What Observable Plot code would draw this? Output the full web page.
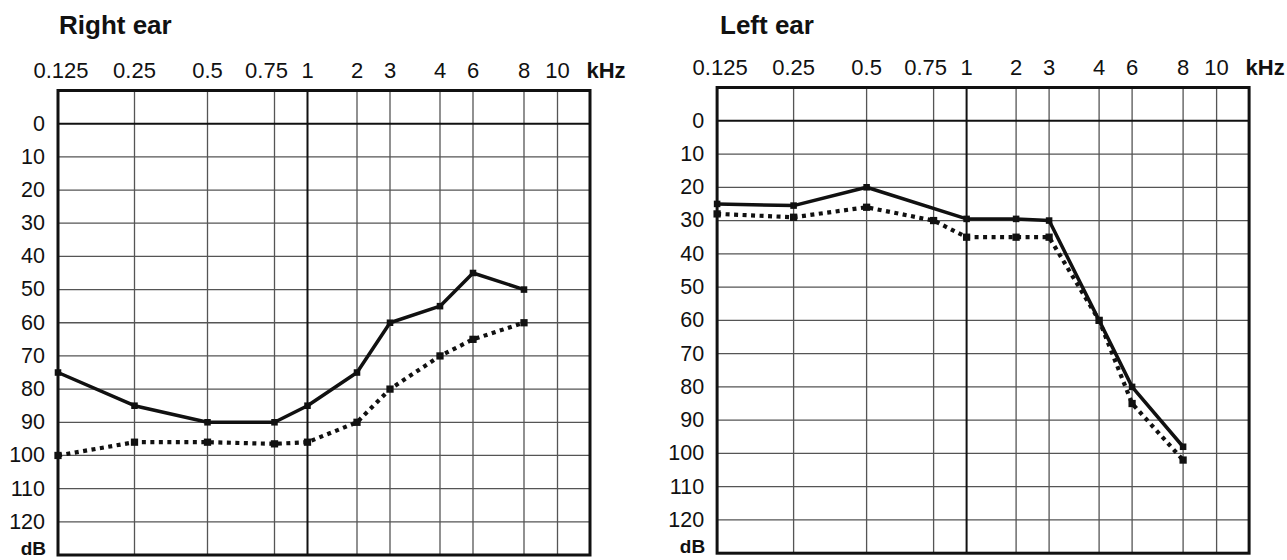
<!DOCTYPE html>
<html>
<head>
<meta charset="utf-8">
<script src="https://cdn.jsdelivr.net/npm/d3@7"></script>
<script src="https://cdn.jsdelivr.net/npm/@observablehq/plot@0.6"></script>
<style>
  body { margin: 0; background: #fff; font-family: "Liberation Sans", Arial, sans-serif; }
  #wrap { display: flex; width: 1287px; height: 560px; overflow: hidden; }
  .panel { position: relative; }
  .title { height: 40px; box-sizing: border-box; padding-top: 12px; font-size: 26px; line-height: 26px; font-weight: bold; color: #111; }
</style>
</head>
<body>
<div id="wrap"></div>
<script>
// ---- data ----
const titles = ["Right ear", "Left ear"];
const freqTicks = [0.125, 0.25, 0.5, 0.75, 1, 2, 3, 4, 6, 8, 10];
const dbTicks = [0, 10, 20, 30, 40, 50, 60, 70, 80, 90, 100, 110, 120];
const freqUnit = "kHz";
const dbUnit = "dB";

const rightSolidFreq = [0.125, 0.25, 0.5, 0.75, 1, 2, 3, 4, 6, 8];
const rightSolidDb   = [75, 85, 90, 90, 85, 75, 60, 55, 45, 50];
const rightDottedFreq = [0.125, 0.25, 0.5, 0.75, 1, 2, 3, 4, 6, 8];
const rightDottedDb   = [100, 96, 96, 96.5, 96, 90, 80, 70, 65, 60];

const leftSolidFreq = [0.125, 0.25, 0.5, 1, 2, 3, 4, 6, 8];
const leftSolidDb   = [25, 25.5, 20, 29.5, 29.5, 30, 60, 80, 98];
const leftDottedFreq = [0.125, 0.25, 0.5, 0.75, 1, 2, 3, 4, 6, 8];
const leftDottedDb   = [28, 29, 26, 30, 35, 35, 35, 60, 85, 102];

// ---- layout: audiogram column spacing (piecewise frequency axis) ----
const xStops = [...freqTicks, 12];
const xOffsets = [0, 76.5, 149.5, 216.5, 249.5, 299, 332, 382, 415, 466, 499.5, 532];
const gridUnits = d3.scaleLinear().domain(xStops).range(xOffsets);
const FONT = '"Liberation Sans", Arial, sans-serif';

function makePanel({title, sF, sV, dF, dV, width, marginLeft, marginTop, marginBottom, titleLeft}) {
  const solid = sF.map((f, i) => ({f, db: sV[i]}));
  const dotted = dF.map((f, i) => ({f, db: dV[i]}));
  const axisOpts = {anchor: "top", tickSize: 0, tickPadding: 12.5, fontSize: 22, label: null, tickFormat: d => String(d)};
  const plot = Plot.plot({
    width,
    height: 520,
    marginLeft,
    marginRight: width - marginLeft - 532,
    marginTop,
    marginBottom,
    x: {type: "linear", transform: f => gridUnits(f), domain: [0, 532]},
    y: {domain: [-10, 130], reverse: true},
    style: {fontFamily: FONT, background: "#fff", color: "#111", overflow: "visible"},
    marks: [
      Plot.ruleX(freqTicks.filter(f => f !== 1), {stroke: "#555", strokeWidth: 1.3}),
      Plot.ruleY(dbTicks.filter(d => d !== 0), {stroke: "#555", strokeWidth: 1.3}),
      Plot.ruleX([1], {stroke: "#111", strokeWidth: 2}),
      Plot.ruleY([0], {stroke: "#111", strokeWidth: 2}),
      Plot.frame({stroke: "#111", strokeWidth: 3}),
      Plot.line(dotted, {x: "f", y: "db", stroke: "#111", strokeWidth: 4.2, strokeDasharray: "4,4.5", strokeLinecap: "butt", strokeLinejoin: "miter"}),
      Plot.line(solid, {x: "f", y: "db", stroke: "#111", strokeWidth: 3.5, strokeLinejoin: "miter"}),
      Plot.dot(dotted, {x: "f", y: "db", symbol: "square", r: 4.1, fill: "#111", stroke: "none"}),
      Plot.dot(solid, {x: "f", y: "db", symbol: "square", r: 3.7, fill: "#111", stroke: "none"}),
      Plot.axisX(freqTicks.filter(f => f !== 0.75 && f !== 0.125), axisOpts),
      Plot.axisX([0.75], {...axisOpts, dx: -8}),
      Plot.axisX([0.125], {...axisOpts, dx: 3}),
      Plot.axisY(dbTicks, {anchor: "left", tickSize: 0, tickPadding: 13, fontSize: 21.5, label: null, tickFormat: d => String(d)}),
      Plot.text([freqUnit], {text: d => d, frameAnchor: "top-right", textAnchor: "start", lineAnchor: "bottom", dx: -3.5, dy: -12.5, fontSize: 22, fontWeight: "bold", fill: "#111"}),
      Plot.text([dbUnit], {text: d => d, frameAnchor: "bottom-left", textAnchor: "end", lineAnchor: "bottom", dx: -12, dy: 0, fontSize: 19, fontWeight: "bold", fill: "#111"})
    ]
  });
  const div = document.createElement("div");
  div.className = "panel";
  div.style.width = width + "px";
  const t = document.createElement("div");
  t.className = "title";
  t.style.paddingLeft = titleLeft + "px";
  t.textContent = title;
  div.appendChild(t);
  div.appendChild(plot);
  return div;
}

const wrap = document.getElementById("wrap");
wrap.appendChild(makePanel({
  title: titles[0], sF: rightSolidFreq, sV: rightSolidDb, dF: rightDottedFreq, dV: rightDottedDb,
  width: 643, marginLeft: 57.5, marginTop: 50, marginBottom: 5.5, titleLeft: 59
}));
wrap.appendChild(makePanel({
  title: titles[1], sF: leftSolidFreq, sV: leftSolidDb, dF: leftDottedFreq, dV: leftDottedDb,
  width: 644, marginLeft: 73.6, marginTop: 47, marginBottom: 7.3, titleLeft: 77
}));
</script>
</body>
</html>
